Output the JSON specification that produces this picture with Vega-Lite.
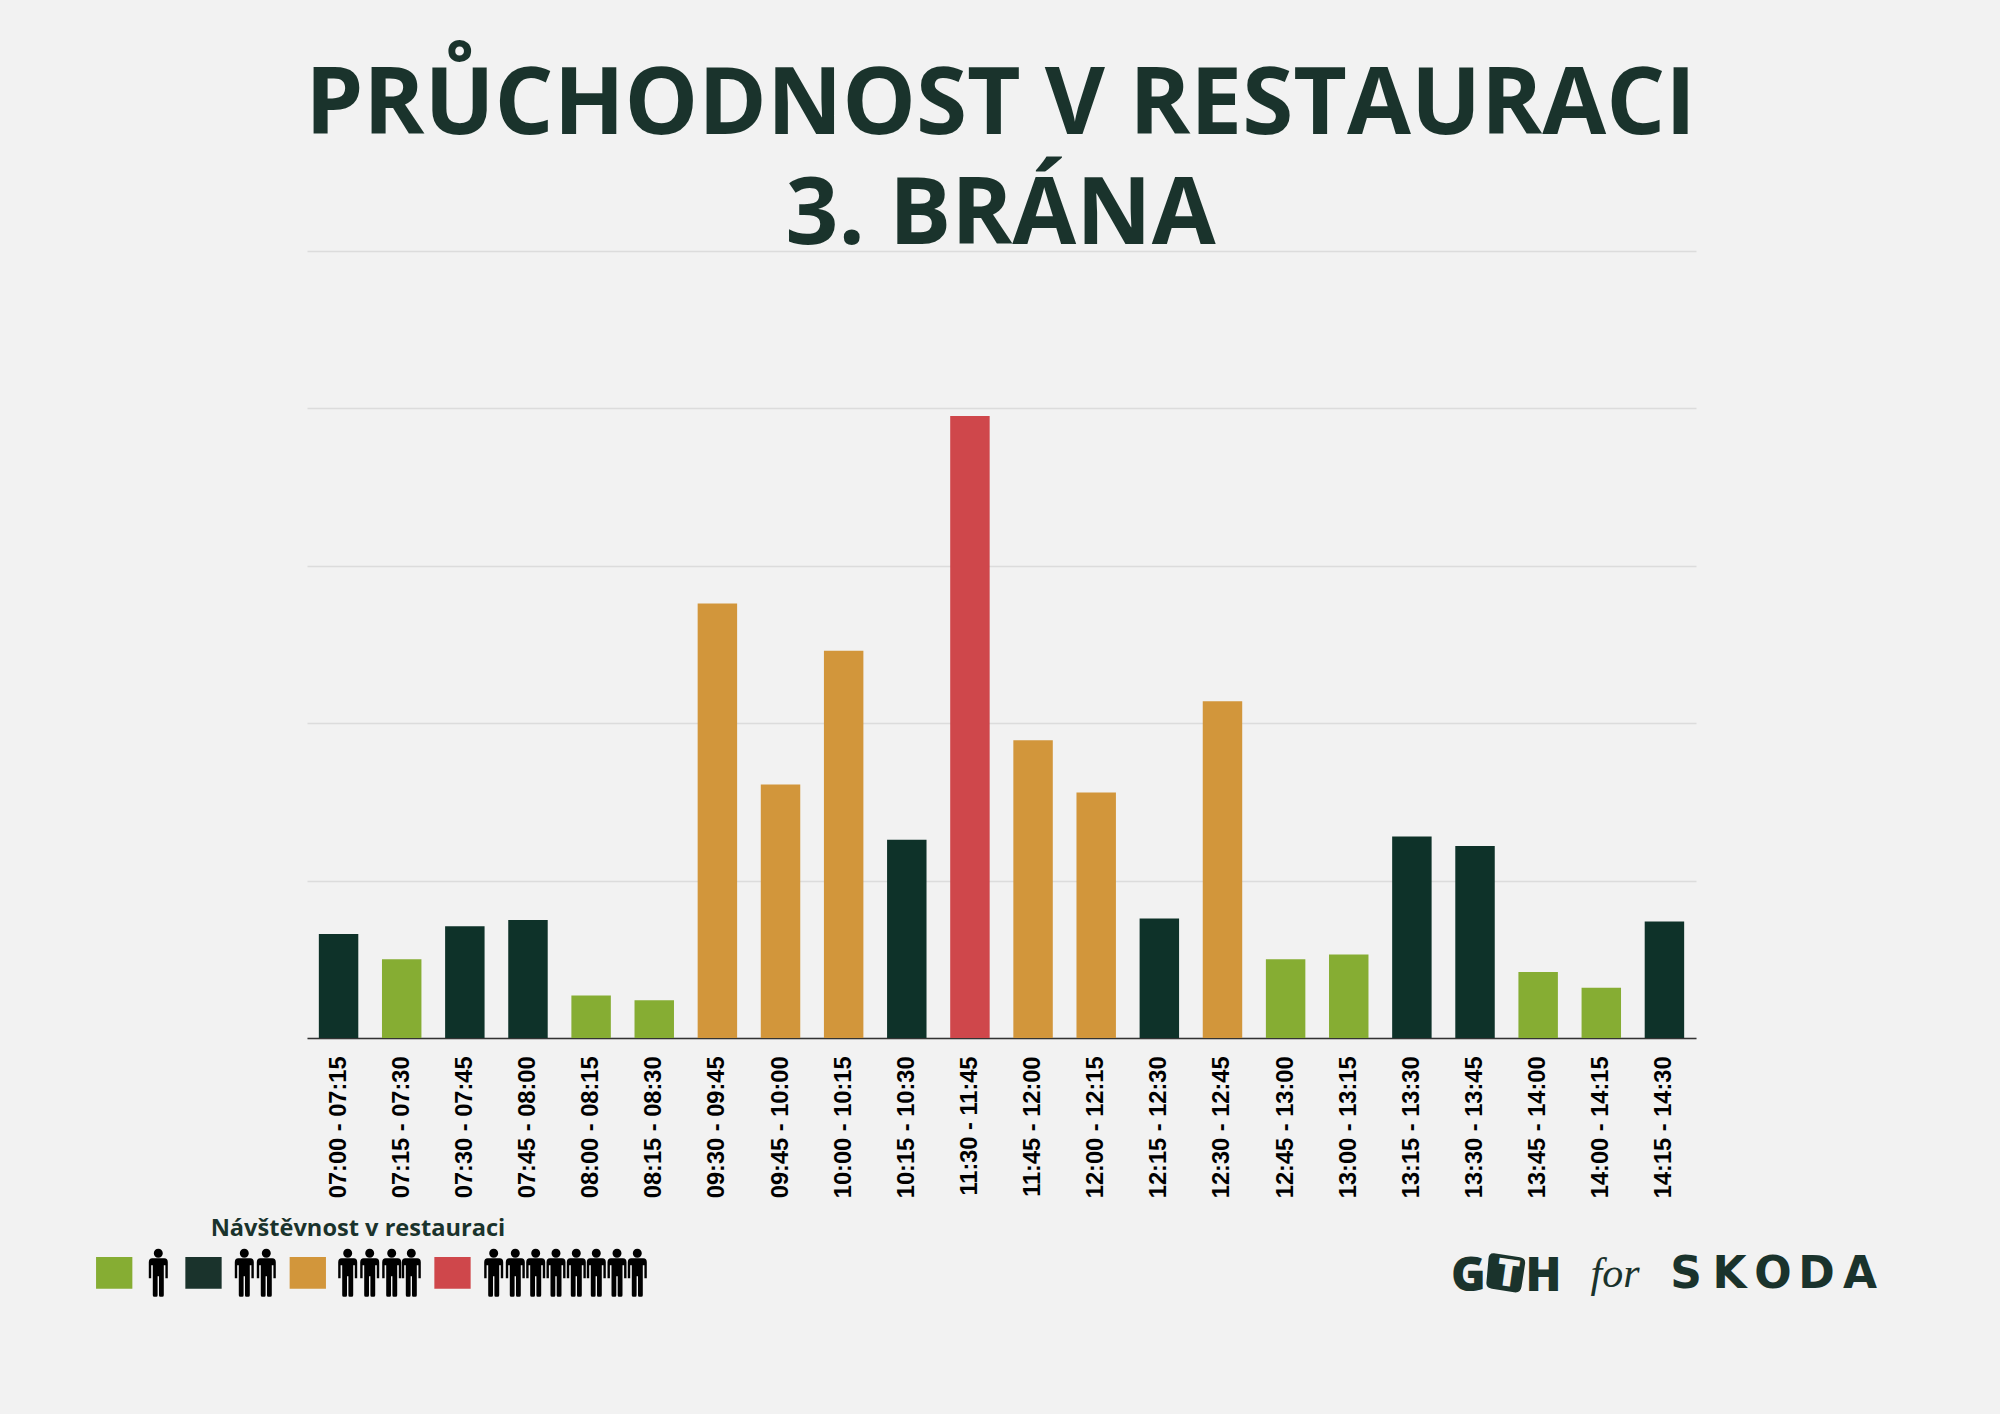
{
  "$schema": "https://vega.github.io/schema/vega-lite/v6.json",
  "width": 1389,
  "height": 787,
  "autosize": {"type": "none"},
  "padding": {"left": 307, "top": 251, "right": 304, "bottom": 376},
  "background": "#f2f2f2",
  "title": {
    "text": ["PRŮCHODNOST V RESTAURACI", "3. BRÁNA"],
    "font": "Open Sans",
    "fontWeight": 700,
    "fontSize": 92.7,
    "lineHeight": 110,
    "color": "#1a332c",
    "anchor": "middle",
    "dx": -1,
    "offset": -13
  },
  "config": {"view": {"stroke": null}},
  "datasets": {
    "pruchodnost": [
      {"cas": "07:00 - 07:15", "pocet": 33, "lide": "2"},
      {"cas": "07:15 - 07:30", "pocet": 25, "lide": "1"},
      {"cas": "07:30 - 07:45", "pocet": 35.5, "lide": "2"},
      {"cas": "07:45 - 08:00", "pocet": 37.5, "lide": "2"},
      {"cas": "08:00 - 08:15", "pocet": 13.5, "lide": "1"},
      {"cas": "08:15 - 08:30", "pocet": 12, "lide": "1"},
      {"cas": "09:30 - 09:45", "pocet": 138, "lide": "4"},
      {"cas": "09:45 - 10:00", "pocet": 80.5, "lide": "4"},
      {"cas": "10:00 - 10:15", "pocet": 123, "lide": "4"},
      {"cas": "10:15 - 10:30", "pocet": 63, "lide": "2"},
      {"cas": "11:30 - 11:45", "pocet": 197.6, "lide": "8"},
      {"cas": "11:45 - 12:00", "pocet": 94.6, "lide": "4"},
      {"cas": "12:00 - 12:15", "pocet": 78, "lide": "4"},
      {"cas": "12:15 - 12:30", "pocet": 38, "lide": "2"},
      {"cas": "12:30 - 12:45", "pocet": 107, "lide": "4"},
      {"cas": "12:45 - 13:00", "pocet": 25, "lide": "1"},
      {"cas": "13:00 - 13:15", "pocet": 26.5, "lide": "1"},
      {"cas": "13:15 - 13:30", "pocet": 64, "lide": "2"},
      {"cas": "13:30 - 13:45", "pocet": 61, "lide": "2"},
      {"cas": "13:45 - 14:00", "pocet": 21, "lide": "1"},
      {"cas": "14:00 - 14:15", "pocet": 16, "lide": "1"},
      {"cas": "14:15 - 14:30", "pocet": 37, "lide": "2"}
    ],
    "legenda": [
      {"lide": "1"},
      {"lide": "2"},
      {"lide": "4"},
      {"lide": "8"}
    ]
  },
  "layer": [
    {
      "data": {"name": "pruchodnost"},
      "mark": {"type": "bar", "stroke": null},
      "encoding": {
        "x": {
          "field": "cas",
          "type": "nominal",
          "sort": null,
          "scale": {"paddingInner": 0.375, "paddingOuter": 0.1875},
          "axis": {
            "title": null,
            "ticks": false,
            "domainColor": "#333333",
            "domainWidth": 1.5,
            "labelFont": "Liberation Sans",
            "labelFontWeight": "bold",
            "labelFontSize": 23.6,
            "labelColor": "#000000",
            "labelAngle": 270,
            "labelPadding": 18,
            "labelOverlap": false
          }
        },
        "y": {
          "field": "pocet",
          "type": "quantitative",
          "scale": {"domain": [0, 250], "nice": false},
          "axis": {
            "title": null,
            "values": [0, 50, 100, 150, 200, 250],
            "grid": true,
            "gridColor": "#dcdcdc",
            "gridWidth": 1.5,
            "domain": false,
            "ticks": false,
            "labels": false
          }
        },
        "color": {
          "field": "lide",
          "type": "nominal",
          "scale": {
            "domain": ["1", "2", "4", "8"],
            "range": ["#86ad33", "#0e3229", "#d2963b", "#cf474b"]
          },
          "legend": null
        }
      }
    },
    {
      "data": {"values": [{"text": "Návštěvnost v restauraci"}]},
      "mark": {"type": "text", "font": "Open Sans", "fontWeight": 700, "fontSize": 23.6, "color": "#1a332c", "align": "center", "baseline": "alphabetic"},
      "encoding": {
        "x": {"field": "text", "type": "nominal", "scale": {"type": "point", "padding": 0, "range": [51, 51]}, "axis": null},
        "y": {"datum": -62.9},
        "text": {"field": "text"}
      }
    },
    {
      "data": {"name": "legenda"},
      "mark": {"type": "point", "filled": true, "size": 4, "opacity": 1},
      "encoding": {
        "x": {"field": "lide", "type": "nominal", "scale": {"type": "point", "padding": 0, "domain": ["1", "2", "4", "8"], "range": [-192.8, 145.5]}, "axis": null},
        "y": {"datum": -74.6},
        "color": {
          "field": "lide",
          "type": "nominal",
          "scale": {
            "domain": ["1", "2", "4", "8"],
            "range": ["#86ad33", "#1a332c", "#d2963b", "#cf474b"]
          },
          "legend": null
        },
        "shape": {
          "field": "lide",
          "type": "nominal",
          "scale": {
            "domain": ["1", "2", "4", "8"],
            "range": [
              "M-18.15 -15.85h36.3v31.7h-36.3z",
              "M-41.62 -15.85h36.3v31.7h-36.3z",
              "M-50.08 -15.85h36.3v31.7h-36.3z",
              "M-18.15 -15.85h36.3v31.7h-36.3z"
            ]
          },
          "legend": null
        }
      }
    },
    {
      "data": {"name": "legenda"},
      "mark": {"type": "point", "filled": true, "size": 4, "opacity": 1, "color": "#000000"},
      "encoding": {
        "x": {"field": "lide", "type": "nominal", "scale": {"type": "point", "padding": 0, "domain": ["1", "2", "4", "8"], "range": [-192.8, 145.5]}, "axis": null},
        "y": {"datum": -74.6},
        "shape": {
          "field": "lide",
          "type": "nominal",
          "scale": {
            "domain": ["1", "2", "4", "8"],
            "range": [
              "M39.6 -19.5a4.5 4.5 0 1 0 9 0a4.5 4.5 0 1 0 -9 0zM38.1 -14.5h12q3.5 0 3.5 4v16h-2.4v-13h-1.6v30q0 1.5 -1.5 1.5h-2q-1.3 0 -1.3 -1.5v-19h-1.4v19q0 1.5 -1.3 1.5h-2q-1.5 0 -1.5 -1.5v-30h-1.6v13h-2.4v-16q0 -4 3.5 -4z",
              "M12.83 -19.5a4.5 4.5 0 1 0 9 0a4.5 4.5 0 1 0 -9 0zM11.33 -14.5h12q3.5 0 3.5 4v16h-2.4v-13h-1.6v30q0 1.5 -1.5 1.5h-2q-1.3 0 -1.3 -1.5v-19h-1.4v19q0 1.5 -1.3 1.5h-2q-1.5 0 -1.5 -1.5v-30h-1.6v13h-2.4v-16q0 -4 3.5 -4zM34.83 -19.5a4.5 4.5 0 1 0 9 0a4.5 4.5 0 1 0 -9 0zM33.33 -14.5h12q3.5 0 3.5 4v16h-2.4v-13h-1.6v30q0 1.5 -1.5 1.5h-2q-1.3 0 -1.3 -1.5v-19h-1.4v19q0 1.5 -1.3 1.5h-2q-1.5 0 -1.5 -1.5v-30h-1.6v13h-2.4v-16q0 -4 3.5 -4z",
              "M3.47 -19.5a4.5 4.5 0 1 0 9 0a4.5 4.5 0 1 0 -9 0zM1.97 -14.5h12q3.5 0 3.5 4v16h-2.4v-13h-1.6v30q0 1.5 -1.5 1.5h-2q-1.3 0 -1.3 -1.5v-19h-1.4v19q0 1.5 -1.3 1.5h-2q-1.5 0 -1.5 -1.5v-30h-1.6v13h-2.4v-16q0 -4 3.5 -4zM25.47 -19.5a4.5 4.5 0 1 0 9 0a4.5 4.5 0 1 0 -9 0zM23.97 -14.5h12q3.5 0 3.5 4v16h-2.4v-13h-1.6v30q0 1.5 -1.5 1.5h-2q-1.3 0 -1.3 -1.5v-19h-1.4v19q0 1.5 -1.3 1.5h-2q-1.5 0 -1.5 -1.5v-30h-1.6v13h-2.4v-16q0 -4 3.5 -4zM47.47 -19.5a4.5 4.5 0 1 0 9 0a4.5 4.5 0 1 0 -9 0zM45.97 -14.5h12q3.5 0 3.5 4v16h-2.4v-13h-1.6v30q0 1.5 -1.5 1.5h-2q-1.3 0 -1.3 -1.5v-19h-1.4v19q0 1.5 -1.3 1.5h-2q-1.5 0 -1.5 -1.5v-30h-1.6v13h-2.4v-16q0 -4 3.5 -4zM67.07 -19.5a4.5 4.5 0 1 0 9 0a4.5 4.5 0 1 0 -9 0zM65.57 -14.5h12q3.5 0 3.5 4v16h-2.4v-13h-1.6v30q0 1.5 -1.5 1.5h-2q-1.3 0 -1.3 -1.5v-19h-1.4v19q0 1.5 -1.3 1.5h-2q-1.5 0 -1.5 -1.5v-30h-1.6v13h-2.4v-16q0 -4 3.5 -4z",
              "M36.7 -19.5a4.5 4.5 0 1 0 9 0a4.5 4.5 0 1 0 -9 0zM35.2 -14.5h12q3.5 0 3.5 4v16h-2.4v-13h-1.6v30q0 1.5 -1.5 1.5h-2q-1.3 0 -1.3 -1.5v-19h-1.4v19q0 1.5 -1.3 1.5h-2q-1.5 0 -1.5 -1.5v-30h-1.6v13h-2.4v-16q0 -4 3.5 -4zM58.3 -19.5a4.5 4.5 0 1 0 9 0a4.5 4.5 0 1 0 -9 0zM56.8 -14.5h12q3.5 0 3.5 4v16h-2.4v-13h-1.6v30q0 1.5 -1.5 1.5h-2q-1.3 0 -1.3 -1.5v-19h-1.4v19q0 1.5 -1.3 1.5h-2q-1.5 0 -1.5 -1.5v-30h-1.6v13h-2.4v-16q0 -4 3.5 -4zM78.7 -19.5a4.5 4.5 0 1 0 9 0a4.5 4.5 0 1 0 -9 0zM77.2 -14.5h12q3.5 0 3.5 4v16h-2.4v-13h-1.6v30q0 1.5 -1.5 1.5h-2q-1.3 0 -1.3 -1.5v-19h-1.4v19q0 1.5 -1.3 1.5h-2q-1.5 0 -1.5 -1.5v-30h-1.6v13h-2.4v-16q0 -4 3.5 -4zM99 -19.5a4.5 4.5 0 1 0 9 0a4.5 4.5 0 1 0 -9 0zM97.5 -14.5h12q3.5 0 3.5 4v16h-2.4v-13h-1.6v30q0 1.5 -1.5 1.5h-2q-1.3 0 -1.3 -1.5v-19h-1.4v19q0 1.5 -1.3 1.5h-2q-1.5 0 -1.5 -1.5v-30h-1.6v13h-2.4v-16q0 -4 3.5 -4zM119.3 -19.5a4.5 4.5 0 1 0 9 0a4.5 4.5 0 1 0 -9 0zM117.8 -14.5h12q3.5 0 3.5 4v16h-2.4v-13h-1.6v30q0 1.5 -1.5 1.5h-2q-1.3 0 -1.3 -1.5v-19h-1.4v19q0 1.5 -1.3 1.5h-2q-1.5 0 -1.5 -1.5v-30h-1.6v13h-2.4v-16q0 -4 3.5 -4zM139.3 -19.5a4.5 4.5 0 1 0 9 0a4.5 4.5 0 1 0 -9 0zM137.8 -14.5h12q3.5 0 3.5 4v16h-2.4v-13h-1.6v30q0 1.5 -1.5 1.5h-2q-1.3 0 -1.3 -1.5v-19h-1.4v19q0 1.5 -1.3 1.5h-2q-1.5 0 -1.5 -1.5v-30h-1.6v13h-2.4v-16q0 -4 3.5 -4zM160 -19.5a4.5 4.5 0 1 0 9 0a4.5 4.5 0 1 0 -9 0zM158.5 -14.5h12q3.5 0 3.5 4v16h-2.4v-13h-1.6v30q0 1.5 -1.5 1.5h-2q-1.3 0 -1.3 -1.5v-19h-1.4v19q0 1.5 -1.3 1.5h-2q-1.5 0 -1.5 -1.5v-30h-1.6v13h-2.4v-16q0 -4 3.5 -4zM180.3 -19.5a4.5 4.5 0 1 0 9 0a4.5 4.5 0 1 0 -9 0zM178.8 -14.5h12q3.5 0 3.5 4v16h-2.4v-13h-1.6v30q0 1.5 -1.5 1.5h-2q-1.3 0 -1.3 -1.5v-19h-1.4v19q0 1.5 -1.3 1.5h-2q-1.5 0 -1.5 -1.5v-30h-1.6v13h-2.4v-16q0 -4 3.5 -4z"
            ]
          },
          "legend": null
        }
      }
    },
    {
      "data": {"values": [{"znak": "G"}, {"znak": "H"}]},
      "mark": {"type": "text", "font": "Open Sans", "fontWeight": 800, "fontSize": 47, "color": "#1a332c", "align": "center", "baseline": "alphabetic"},
      "encoding": {
        "x": {"field": "znak", "type": "nominal", "scale": {"type": "point", "padding": 0, "domain": ["G", "T", "H"], "range": [1161.5, 1236.5]}, "axis": null},
        "y": {"datum": -80.3},
        "text": {"field": "znak"}
      }
    },
    {
      "data": {"values": [{"znak": "T"}]},
      "mark": {"type": "point", "filled": true, "size": 4, "opacity": 1, "color": "#1a332c", "shape": "M-12 -19.5L14 -15.5Q20 -14.5 19 -8.5L15.5 14Q14.5 20.5 8 19.5L-14 16Q-20.5 15 -19.5 9L-17.5 -14Q-17 -20 -12 -19.5Z"},
      "encoding": {
        "x": {"field": "znak", "type": "nominal", "scale": {"type": "point", "padding": 0, "domain": ["G", "T", "H"], "range": [1161.5, 1236.5]}, "axis": null},
        "y": {"datum": -74.6}
      }
    },
    {
      "data": {"values": [{"znak": "T"}]},
      "mark": {"type": "text", "font": "Open Sans", "fontWeight": 800, "fontSize": 38, "color": "#f2f2f2", "align": "center", "baseline": "alphabetic", "angle": 8},
      "encoding": {
        "x": {"field": "znak", "type": "nominal", "scale": {"type": "point", "padding": 0, "domain": ["G", "T", "H"], "range": [1161.5, 1236.5]}, "axis": null},
        "y": {"datum": -78.8},
        "text": {"field": "znak"}
      }
    },
    {
      "data": {"values": [{"slovo": "for"}]},
      "mark": {"type": "text", "font": "Liberation Serif", "fontStyle": "italic", "fontSize": 42, "color": "#1a332c", "align": "center", "baseline": "alphabetic"},
      "encoding": {
        "x": {"field": "slovo", "type": "nominal", "scale": {"type": "point", "padding": 0, "range": [1308, 1308]}, "axis": null},
        "y": {"datum": -79.1},
        "text": {"field": "slovo"}
      }
    },
    {
      "data": {"values": [{"znak": "S"}, {"znak": "K"}, {"znak": "O"}, {"znak": "D"}, {"znak": "A"}]},
      "mark": {"type": "text", "font": "DejaVu Sans", "fontWeight": "bold", "fontSize": 44, "color": "#1a332c", "align": "center", "baseline": "alphabetic"},
      "encoding": {
        "x": {"field": "znak", "type": "nominal", "sort": null, "scale": {"type": "point", "padding": 0, "domain": ["S", "K", "O", "D", "A"], "range": [1379, 1553]}, "axis": null},
        "y": {"datum": -79.3},
        "text": {"field": "znak"}
      }
    }
  ],
  "resolve": {"scale": {"x": "independent", "color": "independent", "shape": "independent"}}
}
